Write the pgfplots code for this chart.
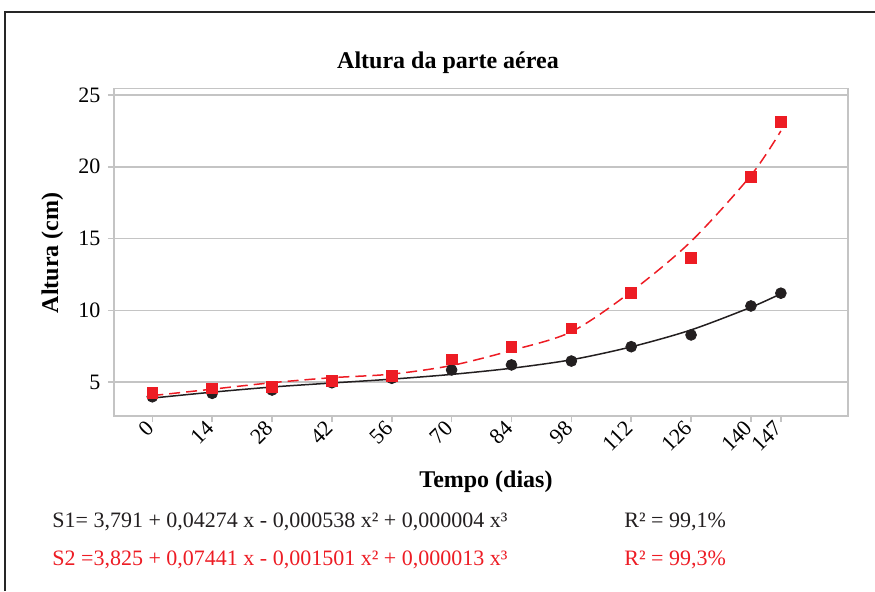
\documentclass[border=0pt]{standalone}
\usepackage{fontspec}
\setmainfont{Liberation Serif}
\usepackage{pgfplots}
\pgfplotsset{compat=1.18}
\definecolor{myred}{HTML}{ED1C24}
\definecolor{myblack}{HTML}{231F20}
\definecolor{gridgray}{HTML}{C4C4C4}
\begin{document}
\fontsize{11}{13}\selectfont
\begin{tikzpicture}[x=0.5pt,y=0.5pt]
\path[use as bounding box] (0,0) rectangle (875,591);
\draw[line width=0.8pt, black!85] (5,0) -- (5,579) -- (875,579);
\begin{axis}[
  at={(57pt,87.5pt)}, anchor=south west,
  scale only axis, width=367pt, height=163.85pt,
  xmin=-8.96, xmax=162.7, ymin=2.63, ymax=25.47,
  xtick={0,14,28,42,56,70,84,98,112,126,140,147},
  ytick={5,10,15,20,25},
  xticklabel style={rotate=45, anchor=east, inner sep=1.5pt, font=\fontsize{11}{13}\selectfont},
  yticklabel style={font=\fontsize{11}{13}\selectfont},
  /pgf/number format/assume math mode=true,
  tick align=outside, tick pos=left, major tick length=3pt,
  tick style={gridgray, line width=0.75pt},
  axis line style={gridgray, line width=0.75pt},
  ymajorgrids, grid style={gridgray, line width=0.75pt},
  clip=false,
]
\addplot[myblack, line width=0.75pt, smooth] coordinates {(0,3.88)(14,4.29)(28,4.65)(42,4.93)(56,5.20)(70,5.53)(84,5.96)(98,6.55)(112,7.45)(126,8.63)(140,10.21)(147,11.15)};
\addplot[only marks, mark=*, mark size=2.7pt, myblack, mark options={fill=myblack, draw=myblack}] coordinates {(0,3.97)(14,4.21)(28,4.44)(42,4.95)(56,5.26)(70,5.84)(84,6.19)(98,6.46)(112,7.46)(126,8.28)(140,10.3)(147,11.19)};
\addplot[myred, line width=0.75pt, smooth, dash pattern=on 5.5pt off 3pt] coordinates {(0,4.05)(14,4.5)(28,4.95)(42,5.3)(56,5.55)(70,6.15)(84,7.2)(98,8.5)(112,11.3)(126,14.8)(140,19.4)(147,22.5)};
\addplot[only marks, mark=square*, mark size=2.7pt, myred, mark options={fill=myred, draw=myred}] coordinates {(0,4.26)(14,4.56)(28,4.67)(42,5.07)(56,5.42)(70,6.58)(84,7.46)(98,8.74)(112,11.19)(126,13.63)(140,19.27)(147,23.13)};
\end{axis}
\node[anchor=base, font=\bfseries\fontsize{12}{14}\selectfont] at (448,523) {Altura da parte aérea};
\node[anchor=base, font=\bfseries\fontsize{12}{14}\selectfont] at (486,104) {Tempo (dias)};
\node[anchor=base, rotate=90, font=\bfseries\fontsize{12}{14}\selectfont] at (58,338) {Altura (cm)};
\node[anchor=base west, inner sep=0pt, myblack] at (52,64) {S1= 3,791 + 0,04274 x - 0,000538 x² + 0,000004 x³};
\node[anchor=base west, inner sep=0pt, myblack] at (624,64) {R² = 99,1\%};
\node[anchor=base west, inner sep=0pt, myred] at (52,26) {S2 =3,825 + 0,07441 x - 0,001501 x² + 0,000013 x³};
\node[anchor=base west, inner sep=0pt, myred] at (624,26) {R² = 99,3\%};
\end{tikzpicture}
\end{document}
